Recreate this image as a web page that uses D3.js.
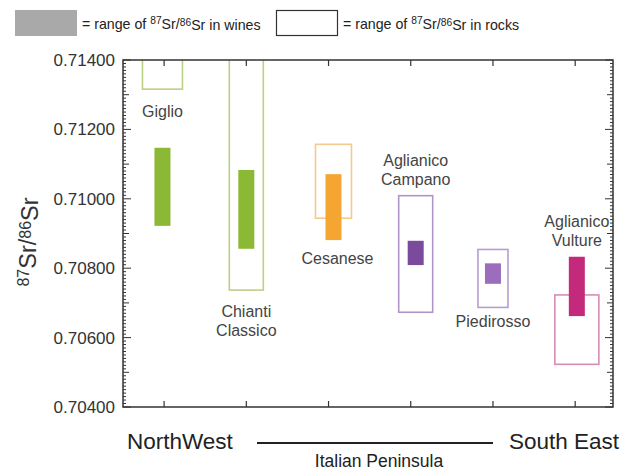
<!DOCTYPE html>
<html>
<head>
<meta charset="utf-8">
<script src="https://cdn.jsdelivr.net/npm/d3@7"></script>
<style>
  html, body { margin: 0; padding: 0; background: #fff; }
  svg { display: block; font-family: "Liberation Sans", Arial, sans-serif; }
</style>
</head>
<body>
<svg id="chart" width="624" height="472"></svg>
<script>
// Wine-growing areas, ordered north-west to south-east along the peninsula
const sites = ["Giglio", "Chianti Classico", "Cesanese", "Aglianico Campano", "Piedirosso", "Aglianico Vulture"];
const sitePosition = [0.98, 2.0, 3.06, 4.06, 5.0, 6.02];

// 87Sr/86Sr ranges measured in wines
const wineMin = [0.70922, 0.70856, 0.70881, 0.70809, 0.70755, 0.70662];
const wineMax = [0.71147, 0.71083, 0.71071, 0.70879, 0.70814, 0.70833];

// 87Sr/86Sr ranges of the local rocks (upper ends run past the axis for the first two)
const rockMin = [0.71316, 0.70737, 0.70944, 0.70673, 0.70687, 0.70523];
const rockMax = [0.71500, 0.71500, 0.71157, 0.71009, 0.70854, 0.70723];

const yTicks = [0.704, 0.706, 0.708, 0.710, 0.712, 0.714];
const xTicks = [1, 2, 3, 4, 5, 6];
const regionStart = "NorthWest";
const regionEnd = "South East";
const regionTitle = "Italian Peninsula";

// Appearance
const wineColor = ["#8cb935", "#8cb935", "#f5a531", "#7b4a9c", "#9c6dbd", "#c42a7b"];
const rockColor = ["#bcd084", "#bcd084", "#f4c98c", "#b096c8", "#b89ecf", "#d98cb6"];
const rockWidth = [40, 34, 36, 34, 30, 44];
const wineWidth = 16;
const labelPlacement = ["belowRock", "belowRock", "belowWine", "aboveRock", "belowRock", "aboveWine"];

const svg = d3.select("#chart");
const plot = { left: 123, right: 613, top: 60, bottom: 407 };

const x = d3.scaleLinear().domain([0.5, 6.46]).range([plot.left, plot.right]);
const y = d3.scaleLinear().domain([0.704, 0.714]).range([plot.bottom, plot.top]);

svg.append("defs").append("clipPath").attr("id", "plotClip")
  .append("rect")
  .attr("x", plot.left).attr("y", plot.top)
  .attr("width", plot.right - plot.left).attr("height", plot.bottom - plot.top);

// Legend
function ratioText(sel, tail) {
  sel.append("tspan").text("= range of ");
  sel.append("tspan").attr("font-size", "0.72em").attr("dy", "-0.45em").text("87");
  sel.append("tspan").attr("dy", "0.32em").text("Sr/");
  sel.append("tspan").attr("font-size", "0.72em").attr("dy", "-0.32em").text("86");
  sel.append("tspan").attr("dy", "0.32em").text("Sr " + tail);
}
const legend = svg.append("g");
legend.append("rect").attr("x", 15).attr("y", 10).attr("width", 62).attr("height", 26).attr("fill", "#a9a9a9");
ratioText(legend.append("text").attr("x", 82).attr("y", 29).attr("font-size", 14.2).attr("fill", "#222"), "in wines");
legend.append("rect").attr("x", 276.5).attr("y", 10.5).attr("width", 61).attr("height", 25)
  .attr("fill", "#fff").attr("stroke", "#333").attr("stroke-width", 1.2);
ratioText(legend.append("text").attr("x", 343).attr("y", 29).attr("font-size", 14.2).attr("fill", "#222"), "in rocks");

// Ranges
const idx = d3.range(sites.length);
const marks = svg.append("g").attr("clip-path", "url(#plotClip)");

marks.selectAll("rect.rock").data(idx).join("rect")
  .attr("class", "rock")
  .attr("x", i => x(sitePosition[i]) - rockWidth[i] / 2)
  .attr("y", i => y(rockMax[i]))
  .attr("width", i => rockWidth[i])
  .attr("height", i => y(rockMin[i]) - y(rockMax[i]))
  .attr("fill", "none")
  .attr("stroke", i => rockColor[i])
  .attr("stroke-width", 1.6);

marks.selectAll("rect.wine").data(idx).join("rect")
  .attr("class", "wine")
  .attr("x", i => x(sitePosition[i]) - wineWidth / 2)
  .attr("y", i => y(wineMax[i]))
  .attr("width", wineWidth)
  .attr("height", i => y(wineMin[i]) - y(wineMax[i]))
  .attr("fill", i => wineColor[i]);

// Site names
const labels = svg.append("g").attr("font-size", 16).attr("fill", "#444").attr("text-anchor", "middle");
idx.forEach(i => {
  const words = sites[i] === "Chianti Classico" || sites[i].startsWith("Aglianico")
    ? sites[i].split(" ") : [sites[i]];
  const cx = x(sitePosition[i]) + (labelPlacement[i] === "belowWine" ? 4 : 0);
  let first;
  switch (labelPlacement[i]) {
    case "belowRock": first = y(rockMin[i]) + (words.length > 1 ? 27 : (i === 0 ? 28 : 20)); break;
    case "belowWine": first = y(wineMin[i]) + 24; break;
    case "aboveRock": first = y(rockMax[i]) - 11 - 18.5 * (words.length - 1); break;
    case "aboveWine": first = y(wineMax[i]) - 11 - 18.5 * (words.length - 1); break;
  }
  words.forEach((w, k) => {
    labels.append("text").attr("x", cx).attr("y", first + k * 18.5).text(w);
  });
});

// Frame and ticks
const axisColor = "#333";
const frame = svg.append("g").attr("stroke", axisColor).attr("fill", "none");

const fine = d3.range(0.704, 0.71401, 0.0001).map(v => +v.toFixed(4));
fine.forEach(v => {
  const k = Math.round(v * 10000) % 10 === 0;
  const big = yTicks.some(t => Math.abs(t - v) < 1e-7);
  const len = big ? 8 : (k ? 6 : 3);
  frame.append("line").attr("x1", plot.left).attr("x2", plot.left + len)
    .attr("y1", y(v)).attr("y2", y(v)).attr("stroke-width", 1);
  frame.append("line").attr("x1", plot.right).attr("x2", plot.right - len)
    .attr("y1", y(v)).attr("y2", y(v)).attr("stroke-width", 1);
});

xTicks.forEach(t => {
  frame.append("line").attr("x1", x(t)).attr("x2", x(t))
    .attr("y1", plot.bottom).attr("y2", plot.bottom - 6).attr("stroke-width", 1.2);
  frame.append("line").attr("x1", x(t)).attr("x2", x(t))
    .attr("y1", plot.top).attr("y2", plot.top + 6).attr("stroke-width", 1.2);
});

frame.append("rect")
  .attr("x", plot.left).attr("y", plot.top)
  .attr("width", plot.right - plot.left).attr("height", plot.bottom - plot.top)
  .attr("stroke-width", 1.5);

// Y tick labels via the axis generator
const yAxis = d3.axisLeft(y).tickValues(yTicks).tickFormat(d3.format(".5f")).tickSize(0).tickPadding(8);
const yg = svg.append("g").attr("transform", `translate(${plot.left},0)`).call(yAxis);
yg.select(".domain").remove();
yg.selectAll("text").attr("font-size", 17).attr("fill", "#333")
  .attr("font-family", "Liberation Sans, Arial, sans-serif");

// Y title
const yt = svg.append("text")
  .attr("transform", "translate(36,242) rotate(-90)")
  .attr("text-anchor", "middle").attr("font-size", 23.5).attr("fill", "#333");
yt.append("tspan").attr("font-size", "0.68em").attr("dy", "-0.45em").text("87");
yt.append("tspan").attr("dy", "0.31em").text("Sr/");
yt.append("tspan").attr("font-size", "0.68em").attr("dy", "-0.31em").text("86");
yt.append("tspan").attr("dy", "0.31em").text("Sr");

// Geographic direction along the bottom
svg.append("text").attr("x", 127).attr("y", 449).attr("font-size", 22.5).attr("fill", "#222").text(regionStart);
svg.append("text").attr("x", 619).attr("y", 449).attr("text-anchor", "end").attr("font-size", 22.5).attr("fill", "#222").text(regionEnd);
svg.append("line").attr("x1", 257).attr("x2", 493).attr("y1", 443).attr("y2", 443)
  .attr("stroke", "#222").attr("stroke-width", 2);
svg.append("text").attr("x", 379).attr("y", 467).attr("text-anchor", "middle")
  .attr("font-size", 17.5).attr("fill", "#222").text(regionTitle);
</script>
</body>
</html>
